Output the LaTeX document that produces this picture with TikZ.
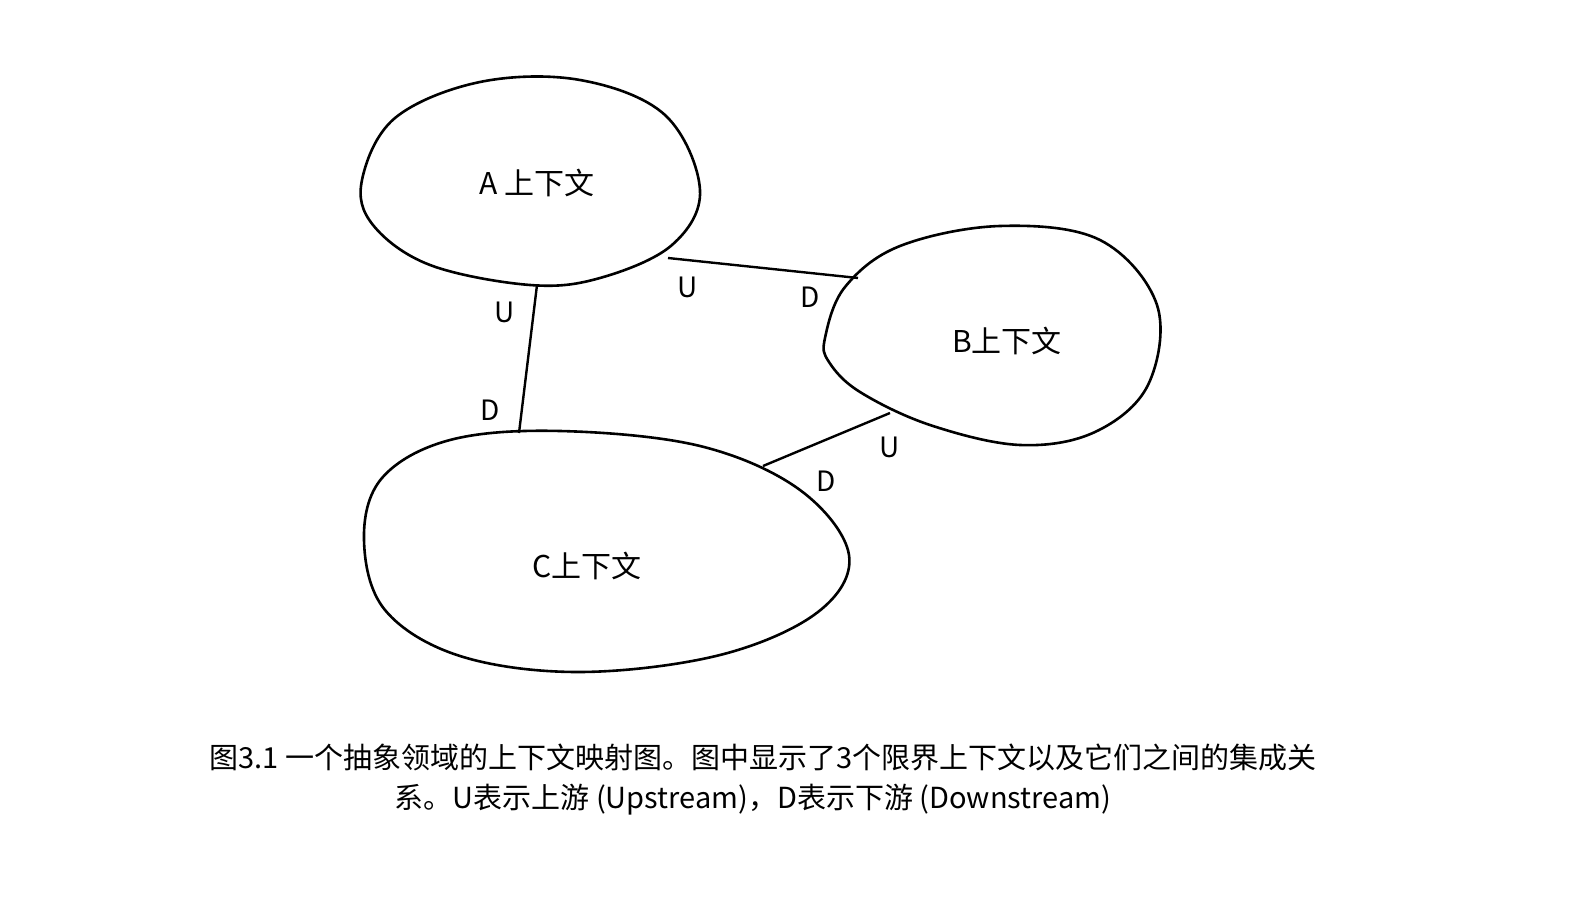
\documentclass[tikz,border=0pt]{standalone}
\usepackage{fontspec}
\setmainfont{Noto Sans CJK SC}
\newfontfamily\capfont{Noto Sans CJK SC}
\begin{document}
\begin{tikzpicture}[x=1pt,y=-1pt,
  blob/.style={line width=2.6pt,black},
  conn/.style={line width=2.4pt,black},
  lab/.style={font=\fontsize{28}{30}\selectfont},
  ctx/.style={font=\fontsize{30}{32}\selectfont},
  captext/.style={font=\capfont\fontsize{29}{34}\selectfont}]
\useasboundingbox[fill=white] (0,0) rectangle (1572,904);
\draw[blob] plot[smooth cycle,tension=0.6] coordinates{(362,180) (395,118) (480,82) (580,80) (665,115) (700,190) (672,245) (600,278) (530,285) (430,265) (373,225)};
\draw[blob] plot[smooth cycle,tension=0.6] coordinates{(825,338) (845,287) (900,246) (1000,226) (1100,240) (1157,305) (1148,385) (1095,432) (1020,445) (930,425) (860,392) (829,362)};
\draw[blob] plot[smooth cycle,tension=0.6] coordinates{(364,540) (382,478) (450,440) (560,431) (700,446) (800,490) (849,555) (818,612) (720,655) (580,672) (460,656) (385,610)};
\node[ctx] (a) at (537,183) {A 上下文};
\node[ctx] (b) at (1007,341) {B上下文};
\node[ctx] (c) at (587,566) {C上下文};
\coordinate (a1) at (668,258); \coordinate (b1) at (858,278);
\coordinate (a2) at (537,285); \coordinate (c2) at (519,433);
\coordinate (b3) at (890,413); \coordinate (c3) at (763,466);
\draw[conn] (a1) -- (b1);
\draw[conn] (a2) -- (c2);
\draw[conn] (b3) -- (c3);
\node[lab] (u1) at (688,287) {U};
\node[lab] (d1) at (810,297) {D};
\node[lab] (u2) at (505,312) {U};
\node[lab] (d2) at (490,410) {D};
\node[lab] (u3) at (890,447) {U};
\node[lab] (d3) at (826,481) {D};
\node[captext] (cap1) at (763,757) {图3.1 一个抽象领域的上下文映射图。图中显示了3个限界上下文以及它们之间的集成关};
\node[captext] (cap2) at (753,800) {系。U表示上游 (Upstream)，D表示下游 (Downstream)};
\end{tikzpicture}
\end{document}
